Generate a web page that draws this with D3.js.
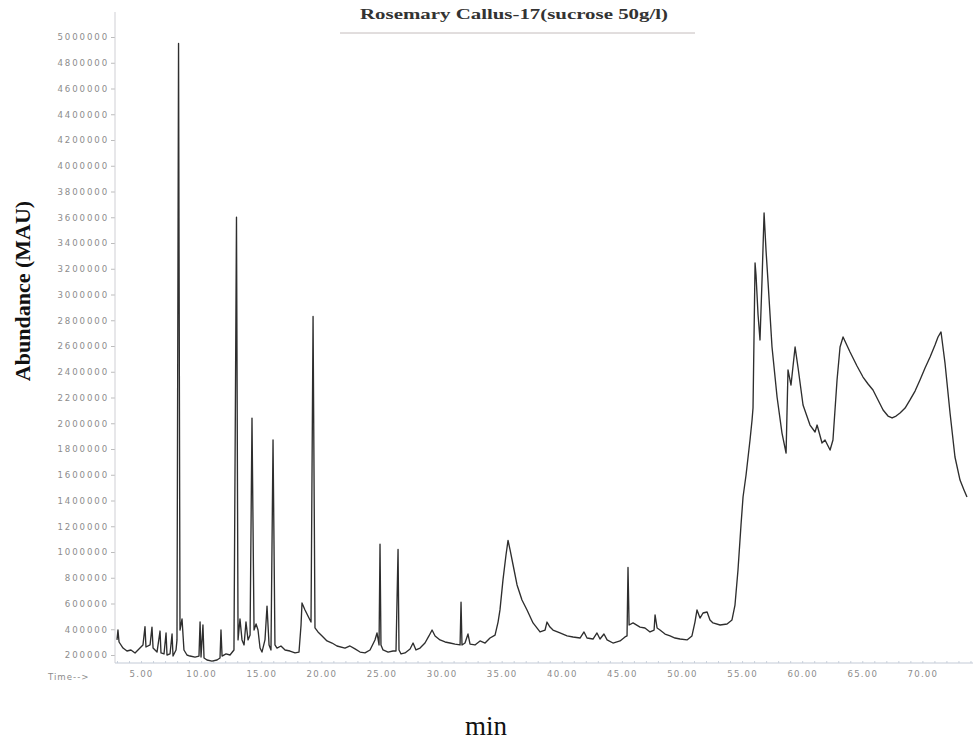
<!DOCTYPE html>
<html>
<head>
<meta charset="utf-8">
<script src="https://cdn.jsdelivr.net/npm/d3@7/dist/d3.min.js"></script>
<style>
  html, body { margin: 0; padding: 0; background: #fff; }
  svg { display: block; }
</style>
</head>
<body>
<svg id="chart" width="973" height="742"></svg>
<script>
// Chromatogram: Rosemary callus extract, total abundance against retention time
const chartTitle = "Rosemary Callus-17(sucrose 50g/l)";
const yTitle = "Abundance (MAU)";
const xTitle = "min";
const xAxisLead = "Time-->";

// retention time (min)
const retentionTime = [
  3.00, 3.08, 3.17, 3.50, 3.83, 4.16, 4.50, 4.91, 5.16, 5.33, 5.41, 5.75, 5.91, 6.00,
  6.33, 6.58, 6.66, 6.91, 7.08, 7.16, 7.41, 7.58, 7.66, 7.91, 7.99, 8.12, 8.24, 8.41,
  8.57, 8.82, 9.07, 9.49, 9.82, 9.91, 9.99, 10.15, 10.24, 10.49, 10.90, 11.32, 11.57,
  11.65, 11.74, 12.07, 12.40, 12.73, 12.94, 13.07, 13.23, 13.40, 13.57, 13.73, 13.90,
  14.07, 14.23, 14.40, 14.57, 14.73, 14.90, 15.06, 15.31, 15.48, 15.65, 15.81, 15.98,
  16.14, 16.31, 16.64, 16.98, 17.39, 17.81, 18.14, 18.31, 18.39, 18.64, 18.97, 19.14,
  19.31, 19.47, 19.72, 20.06, 20.47, 20.89, 21.30, 21.97, 22.38, 22.80, 23.22, 23.63,
  24.05, 24.46, 24.63, 24.80, 24.88, 24.96, 25.13, 25.55, 25.96, 26.21, 26.38, 26.46,
  26.63, 26.96, 27.38, 27.63, 27.87, 28.21, 28.62, 28.95, 29.21, 29.46, 29.87, 30.29,
  30.70, 31.12, 31.54, 31.62, 31.70, 31.95, 32.20, 32.37, 32.78, 33.20, 33.62, 34.03,
  34.45, 34.70, 34.86, 35.11, 35.36, 35.53, 35.70, 35.95, 36.28, 36.69, 37.11, 37.61,
  38.19, 38.61, 38.77, 39.02, 39.27, 39.85, 40.44, 40.94, 41.52, 41.85, 42.10, 42.60,
  42.93, 43.18, 43.51, 43.77, 44.26, 44.85, 45.26, 45.43, 45.51, 45.60, 45.93, 46.51,
  46.92, 47.34, 47.68, 47.76, 47.93, 48.17, 48.59, 49.01, 49.42, 49.84, 50.42, 50.83,
  51.08, 51.25, 51.50, 51.75, 52.09, 52.33, 52.58, 53.17, 53.75, 54.16, 54.41, 54.66,
  54.91, 55.08, 55.33, 55.66, 55.83, 55.91, 56.08, 56.16, 56.33, 56.49, 56.66, 56.83,
  56.99, 57.16, 57.49, 57.91, 58.32, 58.66, 58.82, 59.07, 59.41, 59.66, 60.07, 60.65,
  61.07, 61.24, 61.65, 61.90, 62.32, 62.56, 62.90, 63.15, 63.40, 63.98, 64.56, 65.06,
  65.48, 65.89, 66.31, 66.73, 67.14, 67.48, 67.81, 68.14, 68.56, 68.97, 69.39, 69.80,
  70.22, 70.64, 71.05, 71.30, 71.55, 71.88, 72.30, 72.71, 73.13, 73.46, 73.71
];

// abundance (MAU) at each retention time
const abundance = [
  317000, 394000, 301000, 254000, 231000, 239000, 216000, 254000, 278000, 420000, 262000, 278000, 417000, 254000,
  223000, 386000, 216000, 208000, 371000, 200000, 208000, 363000, 192000, 239000, 317000, 4950000, 394000, 480000,
  239000, 200000, 192000, 184000, 192000, 456000, 184000, 433000, 177000, 161000, 153000, 161000, 177000,
  394000, 192000, 208000, 200000, 239000, 3600000, 317000, 480000, 317000, 278000, 456000, 317000,
  355000, 2040000, 394000, 441000, 394000, 254000, 223000, 317000, 580000, 278000, 239000, 1870000,
  278000, 254000, 270000, 239000, 231000, 216000, 223000, 433000, 604000, 550000, 487000, 456000,
  2830000, 410000, 379000, 348000, 309000, 293000, 270000, 254000, 270000, 247000, 223000, 216000,
  239000, 317000, 371000, 278000, 1060000, 278000, 239000, 223000, 231000, 231000, 1020000, 239000,
  208000, 216000, 247000, 293000, 239000, 254000, 293000, 348000, 394000, 348000, 317000, 301000,
  293000, 285000, 278000, 610000, 278000, 293000, 363000, 285000, 278000, 309000, 293000, 332000,
  355000, 456000, 550000, 783000, 977000, 1090000, 1016000, 899000, 744000, 627000, 550000, 449000,
  379000, 394000, 456000, 417000, 394000, 371000, 348000, 340000, 332000, 379000, 332000, 324000,
  371000, 324000, 363000, 317000, 293000, 309000, 340000, 348000, 880000, 433000, 449000, 417000,
  410000, 379000, 394000, 511000, 410000, 394000, 363000, 348000, 332000, 324000, 317000, 348000,
  456000, 550000, 487000, 526000, 534000, 472000, 449000, 433000, 441000, 472000, 588000, 860000,
  1210000, 1427000, 1598000, 1870000, 2025000, 2118000, 3245000, 3151000, 2841000, 2647000, 3113000, 3633000,
  3346000, 3097000, 2592000, 2204000, 1924000, 1769000, 2414000, 2297000, 2592000, 2429000, 2142000, 1986000,
  1932000, 1986000, 1847000, 1870000, 1792000, 1870000, 2336000, 2592000, 2670000, 2553000, 2445000, 2359000,
  2305000, 2258000, 2181000, 2103000, 2056000, 2041000, 2056000, 2080000, 2118000, 2181000, 2250000, 2336000,
  2429000, 2515000, 2608000, 2670000, 2709000, 2468000, 2080000, 1738000, 1559000, 1482000, 1427000
];

const yTickValues = [200000, 400000, 600000, 800000, 1000000, 1200000, 1400000, 1600000,
  1800000, 2000000, 2200000, 2400000, 2600000, 2800000, 3000000, 3200000, 3400000,
  3600000, 3800000, 4000000, 4200000, 4400000, 4600000, 4800000, 5000000];
const xTickValues = [5, 10, 15, 20, 25, 30, 35, 40, 45, 50, 55, 60, 65, 70];

const svg = d3.select("#chart");
const W = 973, H = 742;
const plotLeft = 115, plotBottom = 663;

const x = d3.scaleLinear().domain([3, 74.21]).range([117, 973]);
const y = d3.scaleLinear().domain([200000, 5000000]).range([655, 37]);

// title with thin rule beneath it
svg.append("text")
  .attr("x", 514).attr("y", 19)
  .attr("text-anchor", "middle")
  .attr("font-family", "'Liberation Serif', 'Times New Roman', serif")
  .attr("font-weight", "bold")
  .attr("font-size", 14)
  .attr("fill", "#333")
  .attr("textLength", 308)
  .attr("lengthAdjust", "spacingAndGlyphs")
  .text(chartTitle);
svg.append("line")
  .attr("x1", 340).attr("x2", 695).attr("y1", 33).attr("y2", 33)
  .attr("stroke", "#c4bcbc").attr("stroke-width", 1);

// y axis
const yAxis = d3.axisLeft(y)
  .tickValues(yTickValues)
  .tickSize(4)
  .tickPadding(2)
  .tickFormat(d3.format("d"));
const gy = svg.append("g")
  .attr("transform", `translate(${plotLeft},0)`)
  .call(yAxis);
gy.select(".domain").remove();
gy.selectAll(".tick line").attr("stroke", "#bdbdbd");
gy.selectAll(".tick text")
  .attr("font-family", "'DejaVu Sans', sans-serif")
  .attr("font-size", 8.6)
  .attr("letter-spacing", 1.9)
  .attr("fill", "#8c8c8c");
svg.append("line")
  .attr("x1", plotLeft).attr("x2", plotLeft)
  .attr("y1", 12).attr("y2", plotBottom)
  .attr("stroke", "#cfcfd4").attr("stroke-width", 1);

// x axis: minor ticks every minute, labelled every five
const gxMinor = svg.append("g")
  .attr("transform", `translate(0,${plotBottom})`)
  .call(d3.axisTop(x).ticks(70).tickSize(2).tickFormat(""));
gxMinor.select(".domain").remove();
gxMinor.selectAll(".tick line").attr("stroke", "#ccd3dd");

const gx = svg.append("g")
  .attr("transform", `translate(0,${plotBottom})`)
  .call(d3.axisBottom(x).tickValues(xTickValues).tickSize(0).tickPadding(8)
    .tickFormat(d3.format(".2f")));
gx.select(".domain").remove();
gx.selectAll(".tick text")
  .attr("font-family", "'DejaVu Sans', sans-serif")
  .attr("font-size", 8.6)
  .attr("letter-spacing", 1.2)
  .attr("fill", "#8c8c8c");
svg.append("line")
  .attr("x1", plotLeft).attr("x2", W)
  .attr("y1", plotBottom).attr("y2", plotBottom)
  .attr("stroke", "#c3cad6").attr("stroke-width", 1);
svg.append("text")
  .attr("x", 48).attr("y", 680)
  .attr("font-family", "'DejaVu Sans', sans-serif")
  .attr("font-size", 8.6)
  .attr("letter-spacing", 1)
  .attr("fill", "#8c8c8c")
  .text(xAxisLead);

// chromatogram trace
const points = retentionTime.map((t, i) => [t, abundance[i]]);
const line = d3.line().x(d => x(d[0])).y(d => y(d[1]));
svg.append("path")
  .datum(points)
  .attr("fill", "none")
  .attr("stroke", "#2e2e2e")
  .attr("stroke-width", 1.35)
  .attr("stroke-linejoin", "round")
  .attr("d", line);

// axis titles
svg.append("text")
  .attr("transform", "translate(30,291) rotate(-90)")
  .attr("text-anchor", "middle")
  .attr("font-family", "'Liberation Serif', 'Times New Roman', serif")
  .attr("font-weight", "bold")
  .attr("font-size", 22)
  .attr("fill", "#111")
  .text(yTitle);
svg.append("text")
  .attr("x", 486).attr("y", 735)
  .attr("text-anchor", "middle")
  .attr("font-family", "'Liberation Serif', 'Times New Roman', serif")
  .attr("font-size", 27)
  .attr("fill", "#111")
  .text(xTitle);
</script>
</body>
</html>
